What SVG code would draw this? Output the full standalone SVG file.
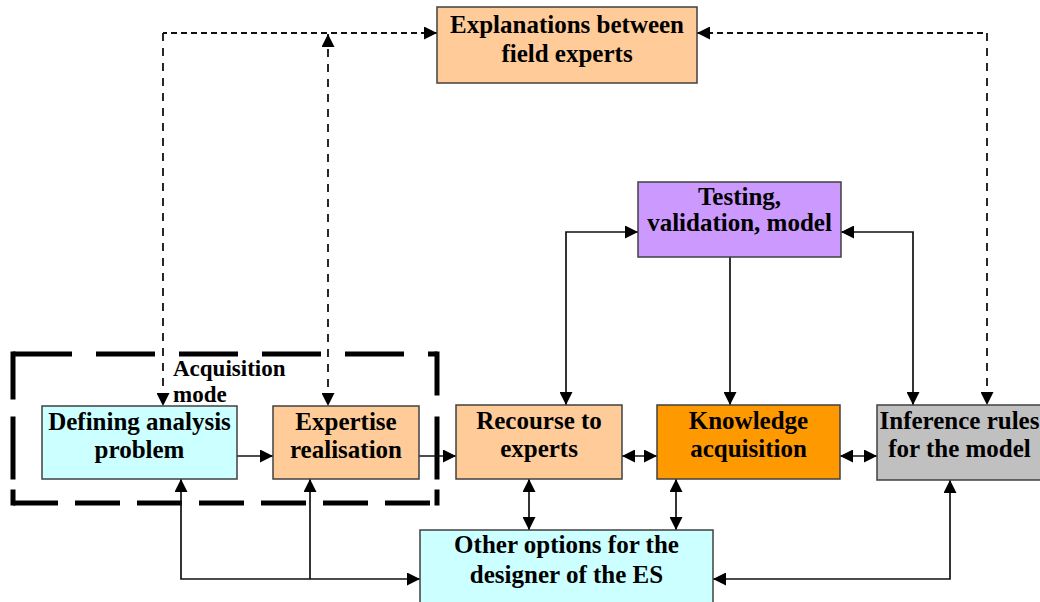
<svg xmlns="http://www.w3.org/2000/svg" width="1040" height="602" viewBox="0 0 1040 602">
<style>
.box{stroke:#404040;stroke-width:1.5}
.t{font-family:"Liberation Serif","Times New Roman",serif;font-weight:bold;font-size:25px;fill:#000;text-anchor:middle}
.lbl{font-family:"Liberation Serif","Times New Roman",serif;font-weight:bold;font-size:23px;fill:#000}
.c{fill:none;stroke:#111;stroke-width:1.7}
.dh{fill:none;stroke:#111;stroke-width:1.8;stroke-dasharray:6 4}
.dv{fill:none;stroke:#111;stroke-width:1.8;stroke-dasharray:8 7}
.frame{fill:none;stroke:#000;stroke-width:5}
</style>
<defs>
<marker id="ah" markerUnits="userSpaceOnUse" markerWidth="13" markerHeight="13" refX="13" refY="6.5" orient="auto-start-reverse" viewBox="0 0 13 13">
<path d="M0,0 L13,6.5 L0,13 z" fill="#000"/>
</marker>
</defs>
<rect width="1040" height="602" fill="#fff"/>

<g id="acquisition-mode">
<line class="frame" x1="13" y1="354" x2="437" y2="354" stroke-dasharray="59 24"/>
<line class="frame" x1="13" y1="503" x2="437" y2="503" stroke-dasharray="45 17"/>
<line class="frame" x1="13" y1="351.5" x2="13" y2="505.5" stroke-dasharray="48 17 63 10 20"/>
<line class="frame" x1="437" y1="351.5" x2="437" y2="505.5" stroke-dasharray="44 21 63 10 20"/>
<text class="lbl" x="173" y="376">Acquisition</text>
<text class="lbl" x="173" y="402">mode</text>
</g>

<g id="connectors">
<path class="c" d="M237,456 H273" marker-end="url(#ah)"/>
<path class="c" d="M419,456 H456" marker-end="url(#ah)"/>
<path class="c" d="M622,456 H657" marker-start="url(#ah)" marker-end="url(#ah)"/>
<path class="c" d="M840,456 H877" marker-start="url(#ah)" marker-end="url(#ah)"/>
<path class="c" d="M638,232 H566 V405" marker-start="url(#ah)" marker-end="url(#ah)"/>
<path class="c" d="M841,232 H913 V405" marker-start="url(#ah)" marker-end="url(#ah)"/>
<path class="c" d="M730,257 V405" marker-end="url(#ah)"/>
<path class="c" d="M529,479 V530" marker-start="url(#ah)" marker-end="url(#ah)"/>
<path class="c" d="M676,479 V530" marker-start="url(#ah)" marker-end="url(#ah)"/>
<path class="c" d="M181,479 V579 H420" marker-start="url(#ah)" marker-end="url(#ah)"/>
<path class="c" d="M310,479 V579" marker-start="url(#ah)"/>
<path class="c" d="M950,480 V579 H713" marker-start="url(#ah)" marker-end="url(#ah)"/>
<path class="dh" d="M437,33 H163" marker-start="url(#ah)"/>
<path class="dv" d="M163,33 V406" marker-end="url(#ah)"/>
<path class="dv" d="M328,34 V406" marker-start="url(#ah)" marker-end="url(#ah)"/>
<path class="dh" d="M697,33 H987" marker-start="url(#ah)"/>
<path class="dv" d="M987,33 V405" marker-end="url(#ah)"/>
</g>

<g id="explanations">
<rect class="box" x="437" y="7" width="260" height="76" fill="#FFCC99"/>
<text class="t" x="567" y="33">Explanations between</text>
<text class="t" x="567" y="62">field experts</text>
</g>

<g id="testing">
<rect class="box" x="638" y="182" width="203" height="75" fill="#CC99FF"/>
<text class="t" x="739.5" y="205">Testing,</text>
<text class="t" x="739.5" y="231">validation, model</text>
</g>

<g id="defining">
<rect class="box" x="42" y="406" width="195" height="73" fill="#CCFFFF"/>
<text class="t" x="139.5" y="430">Defining analysis</text>
<text class="t" x="139.5" y="458">problem</text>
</g>

<g id="expertise">
<rect class="box" x="273" y="406" width="146" height="73" fill="#FFCC99"/>
<text class="t" x="346" y="430">Expertise</text>
<text class="t" x="346" y="458">realisation</text>
</g>

<g id="recourse">
<rect class="box" x="456" y="405" width="166" height="74" fill="#FFCC99"/>
<text class="t" x="539" y="429">Recourse to</text>
<text class="t" x="539" y="457">experts</text>
</g>

<g id="knowledge">
<rect class="box" x="657" y="405" width="183" height="74" fill="#FF9900"/>
<text class="t" x="748.5" y="429">Knowledge</text>
<text class="t" x="748.5" y="457">acquisition</text>
</g>

<g id="inference">
<rect class="box" x="877" y="405" width="170" height="75" fill="#C0C0C0"/>
<text class="t" x="959.5" y="429">Inference rules</text>
<text class="t" x="959.5" y="457">for the model</text>
</g>

<g id="other">
<rect class="box" x="420" y="530" width="293" height="80" fill="#CCFFFF"/>
<text class="t" x="566.5" y="553">Other options for the</text>
<text class="t" x="566.5" y="583">designer of the ES</text>
</g>
</svg>
